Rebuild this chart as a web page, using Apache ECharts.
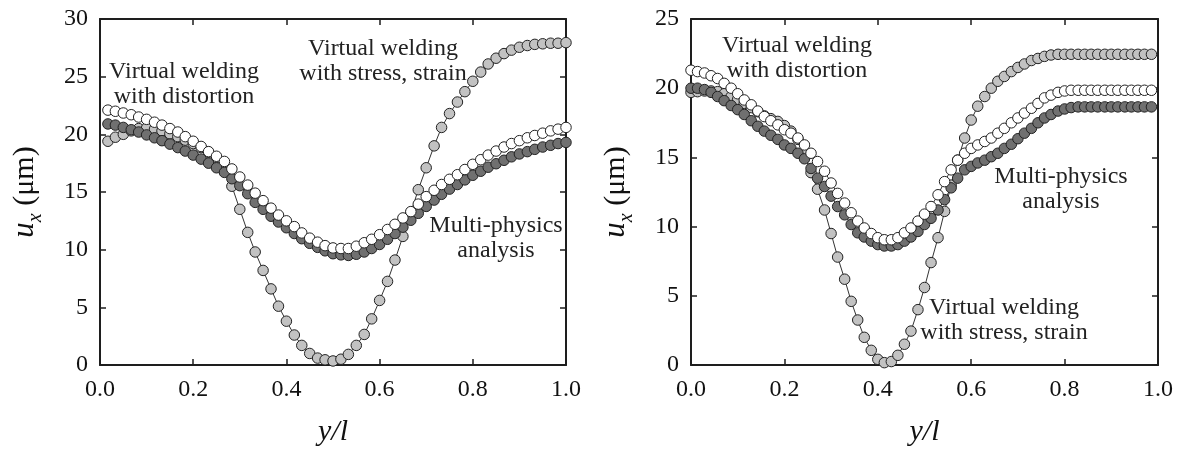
<!DOCTYPE html>
<html>
<head>
<meta charset="utf-8">
<script src="https://cdn.jsdelivr.net/npm/echarts@6/dist/echarts.min.js"></script>
<style>
html,body{margin:0;padding:0;background:#fff;}
#c{width:1181px;height:452px;}
</style>
</head>
<body>
<div id="c"></div>
<script>
// ---- data ----
const xsLeft = [0.017,0.033,0.05,0.067,0.083,0.1,0.117,0.133,0.15,0.167,
  0.183,0.2,0.217,0.233,0.25,0.267,0.283,0.3,0.317,0.333,
  0.35,0.367,0.383,0.4,0.417,0.433,0.45,0.467,0.483,0.5,
  0.517,0.533,0.55,0.567,0.583,0.6,0.617,0.633,0.65,0.667,
  0.683,0.7,0.717,0.733,0.75,0.767,0.783,0.8,0.817,0.833,
  0.85,0.867,0.883,0.9,0.917,0.933,0.95,0.967,0.983,1.0];
const leftDistortion = [22.1,22.0,21.85,21.7,21.5,21.3,21.05,20.8,20.5,20.2,
  19.8,19.4,18.95,18.5,18.1,17.65,17.0,16.3,15.6,14.9,
  14.25,13.6,13.0,12.5,12.0,11.45,11.0,10.65,10.35,10.15,
  10.1,10.1,10.3,10.6,10.9,11.3,11.75,12.2,12.75,13.3,
  13.95,14.6,15.15,15.65,16.1,16.5,16.95,17.4,17.8,18.2,
  18.55,18.9,19.2,19.45,19.7,19.9,20.1,20.3,20.45,20.6];
const leftMulti = [20.9,20.8,20.6,20.4,20.2,19.95,19.7,19.45,19.15,18.85,
  18.55,18.2,17.85,17.5,17.1,16.7,16.15,15.55,14.85,14.1,
  13.5,12.9,12.4,11.9,11.4,10.95,10.55,10.2,9.9,9.65,
  9.55,9.5,9.6,9.8,10.1,10.45,10.9,11.4,11.95,12.55,
  13.15,13.75,14.3,14.8,15.25,15.65,16.05,16.45,16.8,17.15,
  17.45,17.75,18.05,18.3,18.5,18.7,18.9,19.05,19.2,19.3];
const leftStress = [19.4,19.75,20.0,20.3,20.5,20.55,20.45,20.3,20.05,19.8,
  19.5,19.2,18.85,18.45,17.95,16.8,15.5,13.5,11.5,9.8,
  8.2,6.6,5.1,3.8,2.6,1.7,1.0,0.6,0.45,0.35,
  0.5,0.92,1.7,2.65,4.0,5.6,7.25,9.1,11.15,13.2,
  15.2,17.1,19.0,20.6,21.8,22.8,23.7,24.6,25.4,26.1,
  26.6,27.0,27.3,27.55,27.7,27.8,27.85,27.9,27.9,27.95];

const xsRight = [0,0.014,0.029,0.043,0.057,0.071,0.086,0.1,0.114,0.129,
  0.143,0.157,0.171,0.186,0.2,0.214,0.229,0.243,0.257,0.271,
  0.286,0.3,0.314,0.329,0.343,0.357,0.371,0.386,0.4,0.414,
  0.429,0.443,0.457,0.471,0.486,0.5,0.514,0.529,0.543,0.557,
  0.571,0.586,0.6,0.614,0.629,0.643,0.657,0.671,0.686,0.7,
  0.714,0.729,0.743,0.757,0.771,0.786,0.8,0.814,0.829,0.843,
  0.857,0.871,0.886,0.9,0.914,0.929,0.943,0.957,0.971,0.986];
const rightDistortion = [21.3,21.2,21.1,20.9,20.7,20.35,20.0,19.6,19.15,18.8,
  18.35,17.95,17.65,17.35,17.0,16.75,16.4,15.9,15.3,14.7,
  14.0,13.15,12.4,11.7,11.0,10.4,9.9,9.5,9.2,9.05,
  9.05,9.2,9.55,9.9,10.4,10.9,11.45,12.3,13.25,14.1,
  14.8,15.3,15.65,15.9,16.15,16.4,16.75,17.1,17.5,17.85,
  18.2,18.55,18.9,19.3,19.5,19.7,19.8,19.85,19.85,19.85,
  19.85,19.85,19.85,19.85,19.85,19.85,19.85,19.85,19.85,19.85];
const rightMulti = [20.0,20.0,19.9,19.7,19.4,19.1,18.75,18.45,18.1,17.65,
  17.25,16.9,16.6,16.3,15.9,15.65,15.3,14.9,14.2,13.5,
  12.9,12.2,11.45,10.85,10.15,9.55,9.25,8.95,8.7,8.6,
  8.6,8.7,8.95,9.25,9.65,10.15,10.6,11.2,11.95,12.8,
  13.5,14.1,14.35,14.6,14.8,15.05,15.3,15.65,15.95,16.35,
  16.75,17.1,17.5,17.85,18.1,18.35,18.5,18.6,18.65,18.65,
  18.65,18.65,18.65,18.65,18.65,18.65,18.65,18.65,18.65,18.65];
const rightStress = [19.7,19.75,19.8,19.8,19.75,19.6,19.4,19.2,18.9,18.6,
  18.3,18.0,17.8,17.6,17.3,16.9,16.3,15.3,13.9,12.7,
  11.2,9.5,7.8,6.2,4.6,3.25,2.0,1.06,0.41,0.17,
  0.25,0.7,1.5,2.45,4.0,5.6,7.4,9.2,11.1,13.0,
  14.8,16.4,17.7,18.7,19.4,20.0,20.5,20.85,21.2,21.5,
  21.75,22.0,22.15,22.3,22.4,22.45,22.45,22.45,22.45,22.45,
  22.45,22.45,22.45,22.45,22.45,22.45,22.45,22.45,22.45,22.45];

const xTicks = [0.0, 0.2, 0.4, 0.6, 0.8, 1.0];
const leftYMax = 30, rightYMax = 25, yStep = 5;
const labelsLeft = [
  {text: 'Virtual welding\nwith distortion', x: 184, y: 84},
  {text: 'Virtual welding\nwith stress, strain', x: 383, y: 61},
  {text: 'Multi-physics\nanalysis', x: 496, y: 238}
];
const labelsRight = [
  {text: 'Virtual welding\nwith distortion', x: 797, y: 58},
  {text: 'Multi-physics\nanalysis', x: 1061, y: 189},
  {text: 'Virtual welding\nwith stress, strain', x: 1004, y: 320}
];

// ---- chart ----
const FONT = '"Liberation Serif", "Times New Roman", serif';
const AX = '#1e1e1e';
function pairs(xs, ys){ return xs.map((x,i)=>[x, ys[i]]); }

function mkX(gi, pos){
  const main = pos === 'bottom';
  return {
    type:'value', gridIndex: gi, position: pos, min: 0, max: 1, interval: 0.2,
    axisLine:{show:true, onZero:false, lineStyle:{color:AX, width:2}},
    axisTick:{show:true, inside:true, length:6, lineStyle:{color:AX, width:1.5}},
    splitLine:{show:false},
    axisLabel:{show: main, margin: 13, color:'#111', fontFamily: FONT, fontSize: 24,
      formatter: v => v.toFixed(1)},
    name: main ? 'y/l' : '', nameLocation:'middle', nameGap: 52,
    nameTextStyle:{fontFamily: FONT, fontSize: 30, fontStyle:'italic', color:'#111'}
  };
}
function mkY(gi, pos, max){
  const main = pos === 'left';
  return {
    type:'value', gridIndex: gi, position: pos, min: 0, max: max, interval: yStep,
    axisLine:{show:true, onZero:false, lineStyle:{color:AX, width:2}},
    axisTick:{show:true, inside:true, length:6, lineStyle:{color:AX, width:1.5}},
    splitLine:{show:false},
    axisLabel:{show: main, margin: 12, color:'#111', fontFamily: FONT, fontSize: 24},
    name: main ? '{u|u}{s|x}{n| (μm)}' : '', nameLocation:'middle', nameGap: 60, nameRotate: 90,
    nameTextStyle:{
      color:'#111', fontFamily: FONT, fontSize: 30,
      rich:{
        u:{fontFamily: FONT, fontSize: 31, fontStyle:'italic', color:'#111', lineHeight: 34, verticalAlign:'bottom'},
        s:{fontFamily: FONT, fontSize: 20, fontStyle:'italic', color:'#111', lineHeight: 34, verticalAlign:'bottom', padding:[0,0,-6,0]},
        n:{fontFamily: FONT, fontSize: 30, color:'#111', lineHeight: 34, verticalAlign:'bottom'}
      }
    }
  };
}
function mkSeries(xs, ys, xi, yi, fill){
  return {
    type:'line', xAxisIndex: xi, yAxisIndex: yi, data: pairs(xs, ys),
    symbol:'circle', symbolSize: 10.5, showSymbol: true,
    lineStyle:{color:'#333', width:1},
    itemStyle:{color: fill, borderColor:'#222', borderWidth: 1},
    emphasis:{disabled:true}, animation:false, z: 3
  };
}
function mkText(l){
  return {type:'text', x: l.x, y: l.y, z: 10, style:{
    text: l.text, align:'center', verticalAlign:'middle', lineHeight: 25,
    fontFamily: FONT, fontSize: 24, fill:'#222'}};
}

const LIGHT = '#c2c2c2', DARK = '#707070', WHITE = '#ffffff';
const option = {
  animation:false,
  backgroundColor:'#fff',
  grid:[
    {left:100, top:19, width:466, height:347},
    {left:691, top:19, width:467, height:347}
  ],
  xAxis:[mkX(0,'bottom'), mkX(0,'top'), mkX(1,'bottom'), mkX(1,'top')],
  yAxis:[mkY(0,'left',leftYMax), mkY(0,'right',leftYMax), mkY(1,'left',rightYMax), mkY(1,'right',rightYMax)],
  series:[
    mkSeries(xsLeft, leftStress, 0, 0, LIGHT),
    mkSeries(xsLeft, leftMulti, 0, 0, DARK),
    mkSeries(xsLeft, leftDistortion, 0, 0, WHITE),
    mkSeries(xsRight, rightStress, 2, 2, LIGHT),
    mkSeries(xsRight, rightMulti, 2, 2, DARK),
    mkSeries(xsRight, rightDistortion, 2, 2, WHITE)
  ],
  graphic: labelsLeft.concat(labelsRight).map(mkText)
};
const chart = echarts.init(document.getElementById('c'), null, {renderer:'canvas'});
chart.setOption(option);
</script>
</body>
</html>
